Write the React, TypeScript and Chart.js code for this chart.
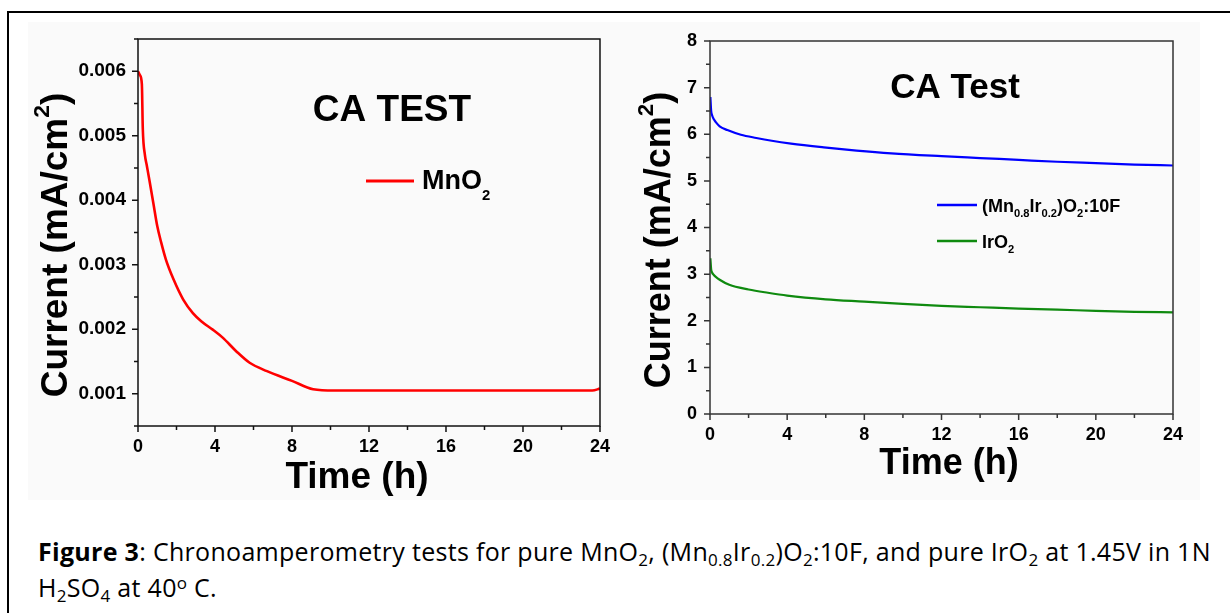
import React, { useEffect, useRef } from "react";
import { Chart, registerables } from "chart.js";

Chart.register(...registerables);

// ---------- data ----------
const timeMnO2 = [0, 0.1, 0.2, 0.25, 0.36, 0.45, 0.6, 0.8, 1.0, 1.2, 1.45, 1.85, 2.35, 2.85, 3.3, 3.9, 4.4, 5.1, 5.8, 6.7, 8.0, 9.1, 10.2, 12, 14, 16, 18, 20, 22, 23, 23.6, 24];
const currentMnO2 = [0.006, 0.00594, 0.0058, 0.0051, 0.0047, 0.00455, 0.0043, 0.00395, 0.0036, 0.00335, 0.00308, 0.00277, 0.00246, 0.00225, 0.00212, 0.00199, 0.00187, 0.00166, 0.00148, 0.00135, 0.0012, 0.00107, 0.00105, 0.00105, 0.00105, 0.00105, 0.00105, 0.00105, 0.00105, 0.00105, 0.00105, 0.00108];

const timeMnIr = [0.02, 0.06, 0.1, 0.2, 0.3, 0.5, 0.9, 1.6, 2.4, 3.2, 4.2, 5.9, 7.6, 9.4, 12, 14, 16, 18, 20, 22, 24];
const currentMnIr = [6.8, 6.5, 6.42, 6.32, 6.26, 6.17, 6.09, 5.99, 5.92, 5.86, 5.8, 5.72, 5.65, 5.59, 5.53, 5.49, 5.45, 5.41, 5.38, 5.35, 5.33];

const timeIrO2 = [0.02, 0.06, 0.1, 0.2, 0.3, 0.5, 1, 2, 3, 4, 6, 8, 10, 12, 14, 16, 18, 20, 22, 24];
const currentIrO2 = [3.34, 3.1, 3.04, 2.98, 2.94, 2.88, 2.77, 2.67, 2.6, 2.54, 2.46, 2.41, 2.36, 2.32, 2.29, 2.26, 2.24, 2.21, 2.19, 2.18];

const timeTickLabels = [0, 4, 8, 12, 16, 20, 24];
const leftYTickLabels = ["0.001", "0.002", "0.003", "0.004", "0.005", "0.006"];
const rightYTickLabels = ["0", "1", "2", "3", "4", "5", "6", "7", "8"];

const FAM = '"Liberation Sans", Arial, Helvetica, sans-serif';

type Seg = { t: string; k?: "sub" | "sup" };
type RichOpts = { subSize: number; subDrop: number; supSize: number; supRise: number };
const defRich: RichOpts = { subSize: 0.6, subDrop: 0.3, supSize: 0.62, supRise: 0.48 };

function segFont(size: number, seg: Seg, o: RichOpts) {
  const s = seg.k === "sub" ? size * o.subSize : seg.k === "sup" ? size * o.supSize : size;
  return `bold ${s}px ${FAM}`;
}

function drawRich(ctx: CanvasRenderingContext2D, segs: Seg[], x: number, y: number, size: number, align: "left" | "center", o: RichOpts = defRich) {
  ctx.textAlign = "left";
  ctx.textBaseline = "alphabetic";
  let total = 0;
  segs.forEach((s) => {
    ctx.font = segFont(size, s, o);
    total += ctx.measureText(s.t).width;
  });
  let cx = align === "center" ? x - total / 2 : x;
  segs.forEach((s) => {
    ctx.font = segFont(size, s, o);
    const dy = s.k === "sub" ? size * o.subDrop : s.k === "sup" ? -size * o.supRise : 0;
    ctx.fillText(s.t, cx, y + dy);
    cx += ctx.measureText(s.t).width;
  });
}

type LegendItem = { color: string; width: number; segs: Seg[]; lineY: number };
type Decor = {
  axisColor: string;
  yTitle: { x: number; y: number; size: number };
  xTitle: { x: number; y: number; size: number };
  panel: { text: string; x: number; y: number; size: number };
  legend: { x1: number; x2: number; textX: number; size: number; baseOff: number; items: LegendItem[]; rich: RichOpts };
};

function makeDecor(cfg: Decor) {
  return {
    id: "decor",
    afterDraw(chart: any) {
      const ctx: CanvasRenderingContext2D = chart.ctx;
      const a = chart.chartArea;
      const xs = chart.scales.x;
      const ys = chart.scales.y;
      ctx.save();
      ctx.strokeStyle = cfg.axisColor;
      ctx.lineWidth = 1.5;
      ctx.beginPath();
      xs.ticks.forEach((t: any) => {
        const p = xs.getPixelForValue(t.value);
        const len = t.label ? 6 : 4;
        ctx.moveTo(p, a.bottom);
        ctx.lineTo(p, a.bottom + len);
      });
      ys.ticks.forEach((t: any) => {
        const p = ys.getPixelForValue(t.value);
        const len = t.label ? 6 : 4;
        ctx.moveTo(a.left - len, p);
        ctx.lineTo(a.left, p);
      });
      ctx.stroke();
      ctx.strokeRect(a.left, a.top, a.right - a.left, a.bottom - a.top);

      ctx.fillStyle = "#000";
      ctx.save();
      ctx.translate(cfg.yTitle.x, cfg.yTitle.y);
      ctx.rotate(-Math.PI / 2);
      drawRich(ctx, [{ t: "Current (mA/cm" }, { t: "2", k: "sup" }, { t: ")" }], 0, 0, cfg.yTitle.size, "center");
      ctx.restore();
      drawRich(ctx, [{ t: "Time (h)" }], cfg.xTitle.x, cfg.xTitle.y, cfg.xTitle.size, "center");
      drawRich(ctx, [{ t: cfg.panel.text }], cfg.panel.x, cfg.panel.y, cfg.panel.size, "center");
      const L = cfg.legend;
      L.items.forEach((it) => {
        ctx.strokeStyle = it.color;
        ctx.lineWidth = it.width;
        ctx.beginPath();
        ctx.moveTo(L.x1, it.lineY);
        ctx.lineTo(L.x2, it.lineY);
        ctx.stroke();
        ctx.fillStyle = "#000";
        drawRich(ctx, it.segs, L.textX, it.lineY + L.baseOff, L.size, "left", L.rich);
      });
      ctx.restore();
    },
  };
}

function near(v: number, list: number[]) {
  return list.some((m) => Math.abs(m - v) < 1e-9);
}

function ChartCanvas({ config, width, height, left }: { config: any; width: number; height: number; left: number }) {
  const ref = useRef<HTMLCanvasElement | null>(null);
  useEffect(() => {
    if (!ref.current) return;
    const c = new Chart(ref.current, config);
    return () => c.destroy();
  }, []);
  return (
    <canvas
      ref={ref}
      width={width}
      height={height}
      style={{ position: "absolute", left, top: 0, width, height }}
    />
  );
}

function buildLeft() {
  const leftVals = leftYTickLabels.map(Number);
  return {
    type: "line",
    data: {
      datasets: [
        {
          label: "MnO2",
          data: timeMnO2.map((t, i) => ({ x: t, y: currentMnO2[i] })),
          borderColor: "#ff0000",
          borderWidth: 2.6,
          pointRadius: 0,
          fill: false,
          cubicInterpolationMode: "monotone",
        },
      ],
    },
    options: {
      animation: false,
      responsive: false,
      maintainAspectRatio: false,
      layout: { padding: { left: 0, top: 39, right: 16, bottom: 0 } },
      plugins: { legend: { display: false }, tooltip: { enabled: false } },
      scales: {
        x: {
          type: "linear",
          min: 0,
          max: 24,
          grid: { display: false, drawTicks: false },
          border: { display: false },
          ticks: {
            stepSize: 2,
            autoSkip: false,
            maxRotation: 0,
            padding: 10,
            color: "#000",
            font: { family: FAM, size: 18, weight: "bold" },
            callback: (v: number) => (near(v, timeTickLabels) ? String(Math.round(v)) : ""),
          },
          afterFit: (s: any) => {
            s.height = 74;
          },
        },
        y: {
          type: "linear",
          min: 0.0005,
          max: 0.0065,
          grid: { display: false, drawTicks: false },
          border: { display: false },
          ticks: {
            stepSize: 0.0005,
            autoSkip: false,
            padding: 12,
            color: "#000",
            font: { family: FAM, size: 19, weight: "bold" },
            callback: (v: number) => {
              const i = leftVals.findIndex((m) => Math.abs(m - v) < 1e-9);
              return i >= 0 ? leftYTickLabels[i] : "";
            },
          },
          afterFit: (s: any) => {
            s.width = 138;
          },
        },
      },
    },
    plugins: [
      makeDecor({
        axisColor: "#111",
        yTitle: { x: 67, y: 245, size: 37 },
        xTitle: { x: 357, y: 488, size: 37 },
        panel: { text: "CA TEST", x: 392, y: 121, size: 37 },
        legend: {
          x1: 366,
          x2: 414,
          textX: 422,
          size: 27,
          baseOff: 8,
          rich: { subSize: 0.55, subDrop: 0.42, supSize: 0.6, supRise: 0.45 },
          items: [{ color: "#ff0000", width: 3, lineY: 181, segs: [{ t: "MnO" }, { t: "2", k: "sub" }] }],
        },
      }),
    ],
  };
}

function buildRight() {
  const rightVals = rightYTickLabels.map(Number);
  return {
    type: "line",
    data: {
      datasets: [
        {
          label: "(Mn0.8Ir0.2)O2:10F",
          data: timeMnIr.map((t, i) => ({ x: t, y: currentMnIr[i] })),
          borderColor: "#0000ff",
          borderWidth: 2.2,
          pointRadius: 0,
          fill: false,
          cubicInterpolationMode: "monotone",
        },
        {
          label: "IrO2",
          data: timeIrO2.map((t, i) => ({ x: t, y: currentIrO2[i] })),
          borderColor: "#0f8a0f",
          borderWidth: 2.2,
          pointRadius: 0,
          fill: false,
          cubicInterpolationMode: "monotone",
        },
      ],
    },
    options: {
      animation: false,
      responsive: false,
      maintainAspectRatio: false,
      layout: { padding: { left: 0, top: 41, right: 57, bottom: 0 } },
      plugins: { legend: { display: false }, tooltip: { enabled: false } },
      scales: {
        x: {
          type: "linear",
          min: 0,
          max: 24,
          grid: { display: false, drawTicks: false },
          border: { display: false },
          ticks: {
            stepSize: 2,
            autoSkip: false,
            maxRotation: 0,
            padding: 10,
            color: "#000",
            font: { family: FAM, size: 18, weight: "bold" },
            callback: (v: number) => (near(v, timeTickLabels) ? String(Math.round(v)) : ""),
          },
          afterFit: (s: any) => {
            s.height = 86;
          },
        },
        y: {
          type: "linear",
          min: 0,
          max: 8,
          grid: { display: false, drawTicks: false },
          border: { display: false },
          ticks: {
            stepSize: 0.5,
            autoSkip: false,
            padding: 13,
            color: "#000",
            font: { family: FAM, size: 18, weight: "bold" },
            callback: (v: number) => {
              const i = rightVals.findIndex((m) => Math.abs(m - v) < 1e-9);
              return i >= 0 ? rightYTickLabels[i] : "";
            },
          },
          afterFit: (s: any) => {
            s.width = 90;
          },
        },
      },
    },
    plugins: [
      makeDecor({
        axisColor: "#333",
        yTitle: { x: 50, y: 240, size: 36 },
        xTitle: { x: 329, y: 474, size: 36 },
        panel: { text: "CA Test", x: 335, y: 98, size: 35 },
        legend: {
          x1: 317,
          x2: 357,
          textX: 362,
          size: 18,
          baseOff: 6.5,
          rich: { subSize: 0.62, subDrop: 0.32, supSize: 0.6, supRise: 0.45 },
          items: [
            {
              color: "#0000ff",
              width: 2.4,
              lineY: 205,
              segs: [{ t: "(Mn" }, { t: "0.8", k: "sub" }, { t: "Ir" }, { t: "0.2", k: "sub" }, { t: ")O" }, { t: "2", k: "sub" }, { t: ":10F" }],
            },
            { color: "#0f8a0f", width: 2.4, lineY: 241, segs: [{ t: "IrO" }, { t: "2", k: "sub" }] },
          ],
        },
      }),
    ],
  };
}

const subStyle: React.CSSProperties = { fontSize: "0.68em", verticalAlign: "baseline", position: "relative", top: "0.28em" };
const supStyle: React.CSSProperties = { fontSize: "0.68em", verticalAlign: "baseline", position: "relative", top: "-0.45em" };

export default function App() {
  return (
    <div style={{ position: "fixed", left: 0, top: 0, width: 1230, height: 613, background: "#fff", overflow: "hidden" }}>
      <div style={{ position: "absolute", left: 7, top: 11, width: 1240, height: 620, borderTop: "2px solid #000", borderLeft: "2px solid #000" }} />
      <div style={{ position: "absolute", left: 28, top: 22, width: 1172, height: 478, background: "#fafafa" }} />
      <ChartCanvas config={buildLeft()} width={620} height={500} left={0} />
      <ChartCanvas config={buildRight()} width={610} height={500} left={620} />
      <div
        style={{
          position: "absolute",
          left: 38,
          top: 535,
          fontFamily: '"Open Sans", Lato, sans-serif',
          fontSize: 25,
          letterSpacing: "0.3px",
          lineHeight: "33px",
          color: "#000",
          whiteSpace: "nowrap",
        }}
      >
        <b>Figure 3</b>: Chronoamperometry tests for pure MnO<span style={subStyle}>2</span>, (Mn<span style={subStyle}>0.8</span>Ir<span style={subStyle}>0.2</span>)O<span style={subStyle}>2</span>:10F, and pure IrO<span style={subStyle}>2</span> at 1.45V in 1N
        <br />
        H<span style={subStyle}>2</span>SO<span style={subStyle}>4</span> at 40<span style={supStyle}>o</span> C.
      </div>
    </div>
  );
}
